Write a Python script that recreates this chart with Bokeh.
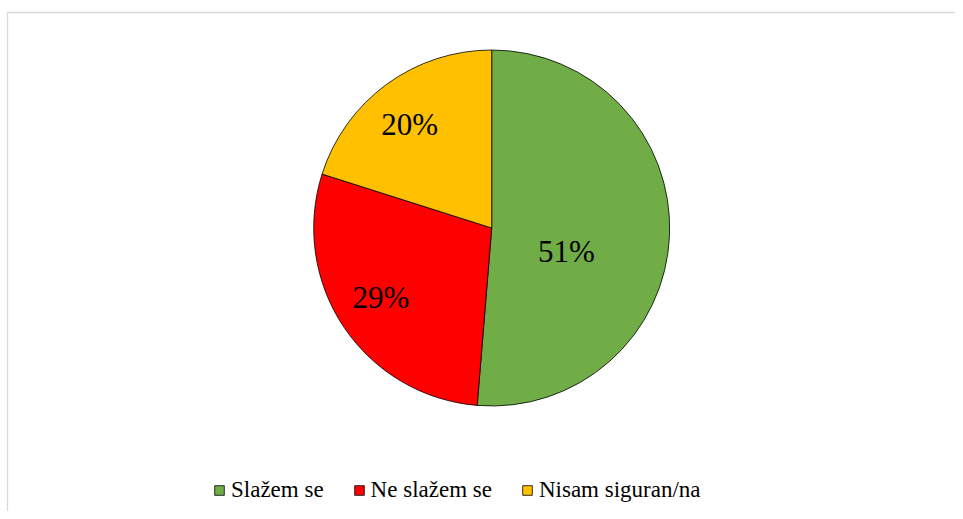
import math
from bokeh.plotting import figure
from bokeh.models import ColumnDataSource, Range1d, Legend, LegendItem
from bokeh.core.properties import value
from bokeh.embed import file_html
from bokeh.resources import INLINE

# ---- data ----
categories = ["Slažem se", "Ne slažem se", "Nisam siguran/na"]
shares = [51.3, 28.6, 20.1]
colors = ["#70AD47", "#FF0000", "#FFC000"]

# ---- layout (styles) ----
W, H = 955, 511
cx, cy, R = 491.2, H - 227.5, 178.0
label_r = [0.44, 0.733, 0.74]
label_shift_deg = [-15.0, -1.9, 2.3]

total = sum(shares)
starts, ends, lx, ly, labels = [], [], [], [], []
a = 90.0
for i, s in enumerate(shares):
    sweep = s / total * 360.0
    st, en = a, a - sweep
    starts.append(math.radians(st))
    ends.append(math.radians(en))
    mid = math.radians((st + en) / 2 + label_shift_deg[i])
    lx.append(cx + label_r[i] * R * math.cos(mid))
    ly.append(cy + label_r[i] * R * math.sin(mid))
    labels.append(f"{round(s / total * 100)}%")
    a = en

src = ColumnDataSource(dict(cat=categories, start=starts, end=ends, color=colors,
                            lx=lx, ly=ly, label=labels))

p = figure(width=W, height=H, output_backend="svg", toolbar_location=None,
           x_range=Range1d(0, W), y_range=Range1d(0, H),
           x_axis_type=None, y_axis_type=None, min_border=0)
p.grid.visible = False
p.outline_line_color = None
p.background_fill_color = "white"
p.border_fill_color = "white"

# chart-area border (top and left visible)
p.line(x=[7.0, 7.0, W + 10], y=[-10, H - 12.0, H - 12.0], line_color="#D9D9D9", line_width=1.3)

wedges = p.wedge(x=cx, y=cy, radius=R, start_angle="start", end_angle="end",
                 direction="clock", fill_color="color", line_color="#000000",
                 line_width=0.8, source=src)

p.text(x="lx", y="ly", text="label", source=src, text_align="center",
       text_baseline="middle", text_font=value("Liberation Serif"),
       text_font_size="31px", text_color="#000000")

items = [LegendItem(label=categories[i], renderers=[wedges], index=i) for i in range(3)]
legend = Legend(items=items, orientation="horizontal", location=(213, 8),
                glyph_width=12, glyph_height=12, label_standoff=6, spacing=29,
                padding=0, margin=0, border_line_color=None,
                background_fill_alpha=0, label_text_font="Liberation Serif",
                label_text_font_size="23px", label_height=23, label_text_color="#000000")
p.add_layout(legend, "center")

open("out.html", "w").write(file_html(p, INLINE))
